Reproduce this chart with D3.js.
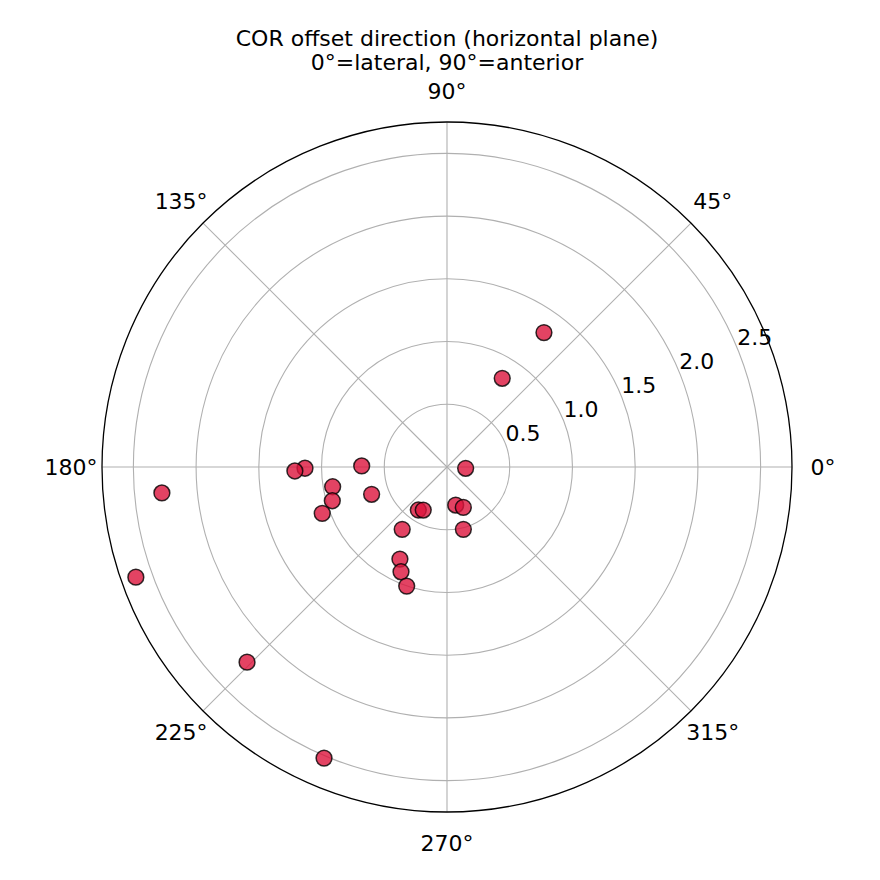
<!DOCTYPE html>
<html>
<head>
<meta charset="utf-8">
<script src="https://cdn.jsdelivr.net/npm/d3@7"></script>
<style>
  html, body { margin: 0; padding: 0; background: #fff; }
  svg { display: block; font-family: "DejaVu Sans", sans-serif; }
</style>
</head>
<body>
<svg id="chart" width="880" height="880"></svg>
<script>
// ---- data ----
const titleLines = ["COR offset direction (horizontal plane)", "0°=lateral, 90°=anterior"];
const angleDeg = [54.2, 58.1, 356.0, 179.3, 180.5, 181.5, 189.8, 196.4, 199.9, 200.4,
                  185.2, 199.5, 224.3, 247.1, 234.3, 242.9, 246.3, 251.3, 236.3, 241.1,
                  282.9, 292.0, 284.7];
const radius   = [1.321, 0.833, 0.149, 0.680, 1.132, 1.213, 0.925, 0.953, 0.639, 1.061,
                  2.282, 2.631, 2.227, 2.519, 0.612, 0.824, 0.912, 1.002, 0.412, 0.392,
                  0.311, 0.347, 0.514];
const rTicks = [0.5, 1.0, 1.5, 2.0, 2.5];
const rTickLabels = ["0.5", "1.0", "1.5", "2.0", "2.5"];
const thetaTicks = [0, 45, 90, 135, 180, 225, 270, 315];
const thetaTickLabels = ["0°", "45°", "90°", "135°", "180°", "225°", "270°", "315°"];
const rMax = 2.75;

// ---- layout ----
const cx = 447, cy = 467, R = 345;
const svg = d3.select("#chart");
const r = d3.scaleLinear().domain([0, rMax]).range([0, R]);
const th = d3.scaleLinear().domain([0, 360]).range([0, 2 * Math.PI]);
const px = (a, v) => cx + r(v) * Math.cos(th(a));
const py = (a, v) => cy - r(v) * Math.sin(th(a));

const g = svg.append("g");

// grid circles
g.selectAll("circle.grid").data(rTicks).join("circle")
  .attr("class", "grid")
  .attr("cx", cx).attr("cy", cy).attr("r", d => r(d))
  .attr("fill", "none").attr("stroke", "#b0b0b0").attr("stroke-width", 1.1);

// spokes
g.selectAll("line.spoke").data(thetaTicks).join("line")
  .attr("class", "spoke")
  .attr("x1", cx).attr("y1", cy)
  .attr("x2", d => px(d, rMax)).attr("y2", d => py(d, rMax))
  .attr("stroke", "#b0b0b0").attr("stroke-width", 1.1);

// outer frame
g.append("circle").attr("cx", cx).attr("cy", cy).attr("r", r(rMax))
  .attr("fill", "none").attr("stroke", "#000").attr("stroke-width", 1.3);

// radial labels at 22.5°
g.selectAll("text.rlab").data(rTicks).join("text")
  .attr("class", "rlab")
  .attr("x", d => px(22.5, d) + 0.5)
  .attr("y", d => py(22.5, d) - 2)
  .attr("font-size", 22)
  .attr("fill", "#000")
  .text((d, i) => rTickLabels[i]);

// angular labels
const labR = 376;
g.selectAll("text.tlab").data(thetaTicks).join("text")
  .attr("class", "tlab")
  .attr("x", d => cx + labR * Math.cos(th(d)))
  .attr("y", d => cy - labR * Math.sin(th(d)))
  .attr("text-anchor", "middle")
  .attr("dominant-baseline", "central")
  .attr("font-size", 22)
  .attr("fill", "#000")
  .text((d, i) => thetaTickLabels[i]);

// points
g.selectAll("circle.pt").data(angleDeg).join("circle")
  .attr("class", "pt")
  .attr("cx", (d, i) => px(d, radius[i]))
  .attr("cy", (d, i) => py(d, radius[i]))
  .attr("r", 7.9)
  .attr("fill", "rgba(220,20,60,0.8)")
  .attr("stroke", "rgba(0,0,0,0.8)")
  .attr("stroke-width", 1.5);

// title
svg.selectAll("text.title").data(titleLines).join("text")
  .attr("class", "title")
  .attr("x", cx).attr("y", (d, i) => 46 + i * 24)
  .attr("text-anchor", "middle")
  .attr("font-size", 22)
  .attr("fill", "#000")
  .text(d => d);
</script>
</body>
</html>
